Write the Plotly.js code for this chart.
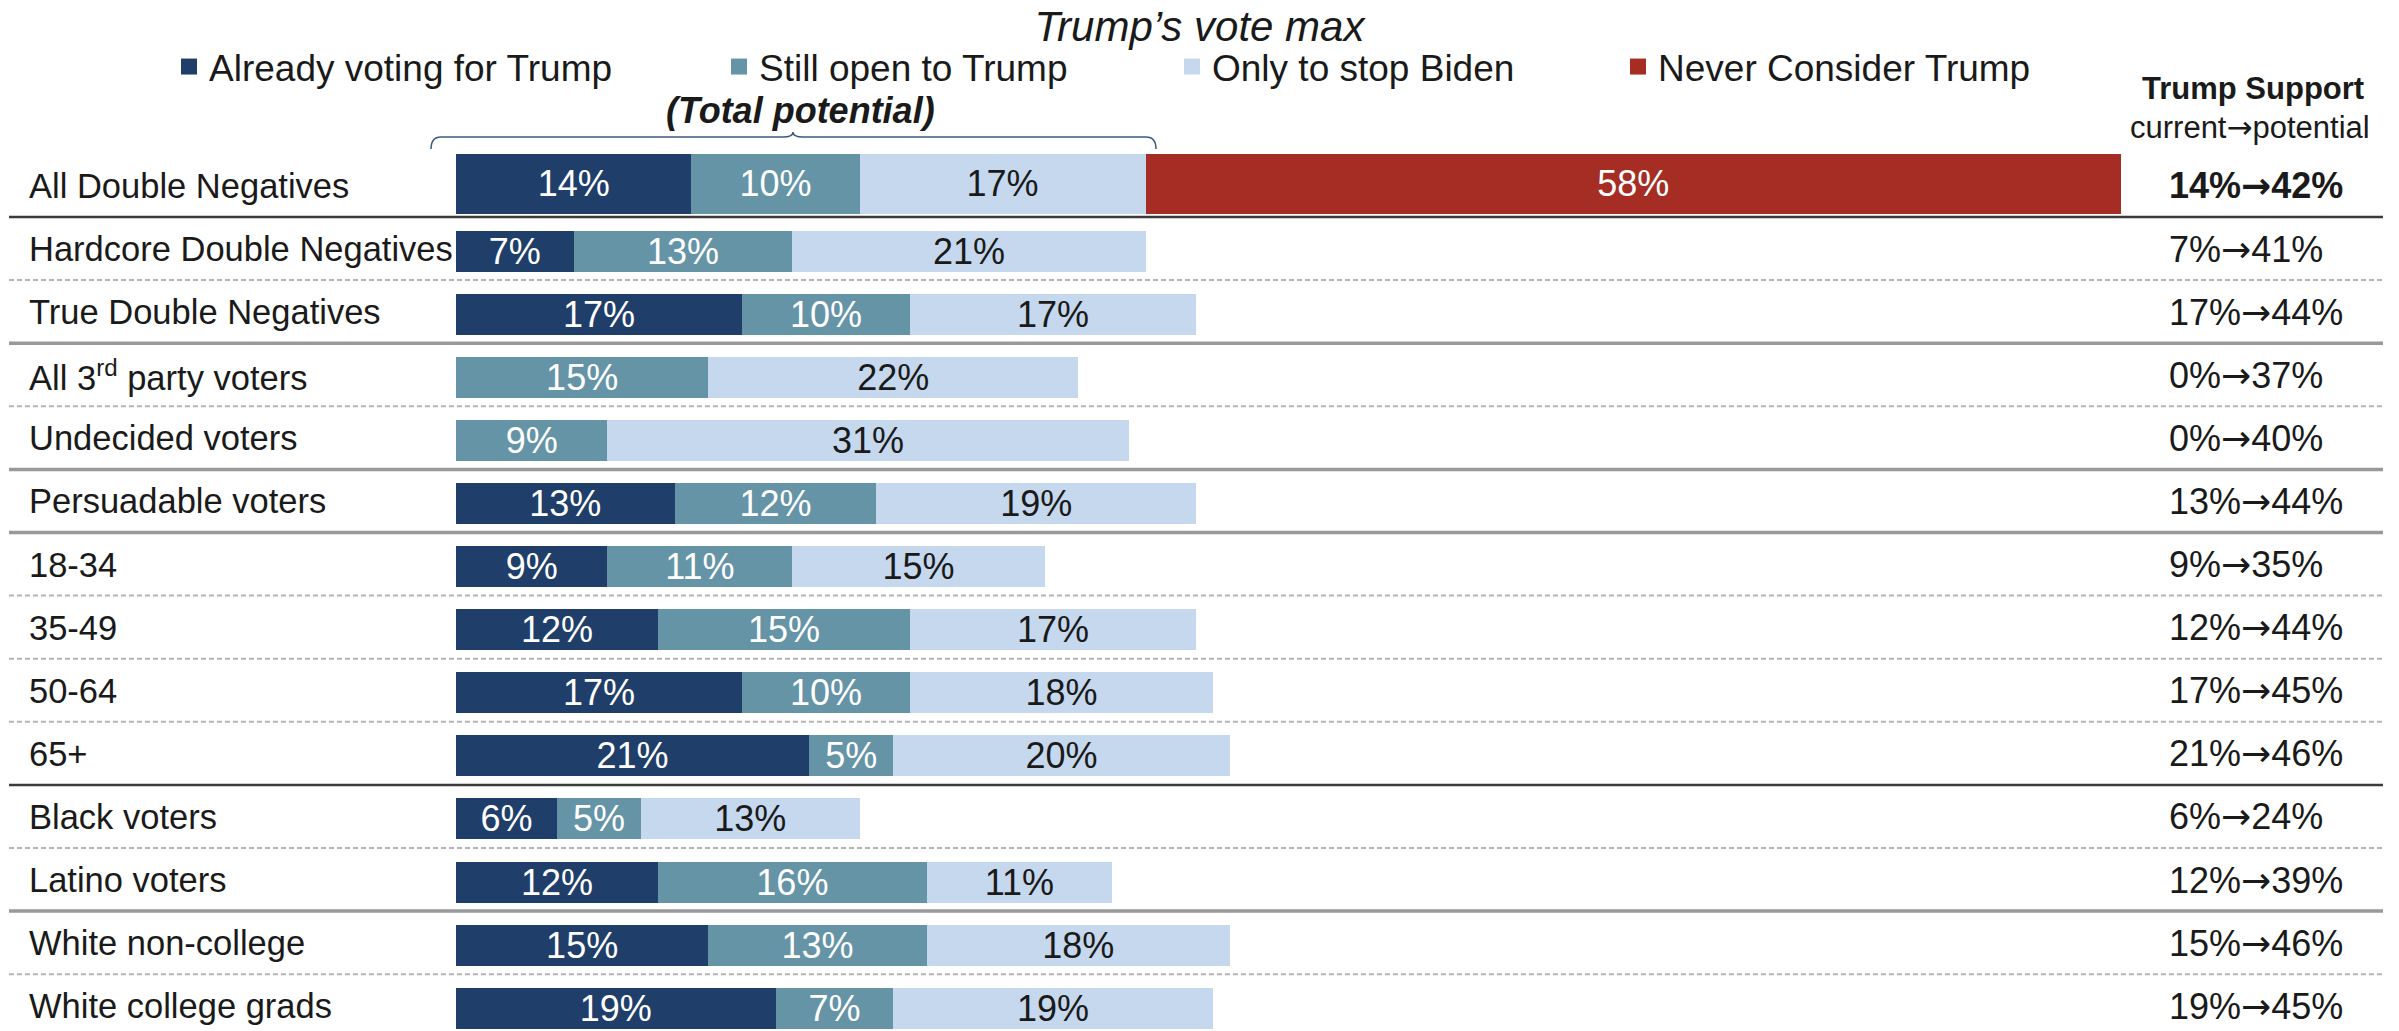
<!DOCTYPE html>
<html>
<head>
<meta charset="utf-8">
<script src="https://cdn.plot.ly/plotly-3.0.1.min.js"></script>
<style>html,body{margin:0;padding:0;background:#fff;}#chart{width:2399px;height:1031px;}</style>
</head>
<body>
<div id="chart"></div>
<script>
// ---- data ----
var categories = ['All Double Negatives','Hardcore Double Negatives','True Double Negatives','All 3<sup>rd</sup> party voters','Undecided voters','Persuadable voters','18-34','35-49','50-64','65+','Black voters','Latino voters','White non-college','White college grads'];
var alreadyVoting = [14, 7, 17, 0, 0, 13, 9, 12, 17, 21, 6, 12, 15, 19];
var stillOpen     = [10, 13, 10, 15, 9, 12, 11, 15, 10, 5, 5, 16, 13, 7];
var onlyStopBiden = [17, 21, 17, 22, 31, 19, 15, 17, 18, 20, 13, 11, 18, 19];
var neverConsider = [58, null, null, null, null, null, null, null, null, null, null, null, null, null];
var supportCurrent   = [14, 7, 17, 0, 0, 13, 9, 12, 17, 21, 6, 12, 15, 19];
var supportPotential = [42, 41, 44, 37, 40, 44, 35, 44, 45, 46, 24, 39, 46, 45];
var seriesNames = ['Already voting for Trump','Still open to Trump','Only to stop Biden','Never Consider Trump'];
// separator style after each row: 'dark', 'solid', 'dash'
var separators = ['dark','dash','solid','dash','solid','solid','dash','dash','dash','dark','dash','solid','dash'];

// ---- styling ----
var W = 2399, H = 1031;
var FONT = 'Liberation Sans, Arial, sans-serif';
var ARROW = '<span style="font-family:\'DejaVu Sans\'">\u2192</span>';
var colors = ['#1f3e69', '#6594a7', '#c5d8ee', '#a52d24'];
var textColors = ['#ffffff', '#ffffff', '#1a1a1a', '#ffffff'];
function px(x){ return x / W; }
function py(y){ return 1 - y / H; }

var widths = categories.map(function(c, i){ return i === 0 ? 0.951 : 0.65; });
var offsets = categories.map(function(c, i){ return i === 0 ? -0.539 : -0.325; });

var seriesValues = [alreadyVoting, stillOpen, onlyStopBiden, neverConsider];
var traces = seriesValues.map(function(vals, k){
  return {
    type: 'bar', orientation: 'h',
    name: seriesNames[k],
    x: vals, y: categories,
    width: widths, offset: offsets,
    marker: {color: colors[k], line: {width: 0}},
    text: vals.map(function(v){ return (v === null || v === 0) ? null : v + '%'; }),
    textposition: 'inside', insidetextanchor: 'middle',
    constraintext: 'none', cliponaxis: false,
    textfont: {family: FONT, size: 36, color: textColors[k]},
    showlegend: false, hoverinfo: 'skip'
  };
});

// legend-only traces (one legend each so they can be spaced like the original)
var legendIds = ['legend', 'legend2', 'legend3', 'legend4'];
seriesNames.forEach(function(n, k){
  traces.push({
    type: 'scatter', mode: 'markers', x: [null], y: [null],
    name: n, legend: legendIds[k],
    marker: {symbol: 'square', size: 16, color: colors[k]},
    showlegend: true, hoverinfo: 'skip'
  });
});

var legendTextStart = [214, 764, 1217, 1663];
var annotations = [];
categories.forEach(function(c, i){
  annotations.push({
    xref: 'paper', yref: 'y', x: px(27), y: c, xanchor: 'left', yanchor: 'middle', yshift: 2,
    text: c, showarrow: false,
    font: {family: FONT, size: 34.5, color: '#1a1a1a'}
  });
  var s = supportCurrent[i] + '%' + ARROW + supportPotential[i] + '%';
  annotations.push({
    xref: 'paper', yref: 'y', x: px(2167), y: c, xanchor: 'left', yanchor: 'middle', yshift: 2,
    text: i === 0 ? '<b>' + s + '</b>' : s, showarrow: false,
    font: {family: FONT, size: 36, color: '#1a1a1a'}
  });
});
annotations.push({xref:'paper', yref:'paper', x: px(2253), y: py(88), xanchor:'center', yanchor:'middle',
  text:'<b>Trump Support</b>', showarrow:false, font:{family:FONT, size:31, color:'#1a1a1a'}});
annotations.push({xref:'paper', yref:'paper', x: px(2250), y: py(127), xanchor:'center', yanchor:'middle',
  text:'current' + ARROW + 'potential', showarrow:false, font:{family:FONT, size:31, color:'#1a1a1a'}});
annotations.push({xref:'paper', yref:'paper', x: px(800), y: py(111), xanchor:'center', yanchor:'middle',
  text:'<b><i>(Total potential)</i></b>', showarrow:false, font:{family:FONT, size:36, color:'#1a1a1a'}});

var shapes = [];
var sepStyle = {
  dark:  {color:'#3a3a3a', width:2.5, dash:'solid'},
  solid: {color:'#999999', width:3.5, dash:'solid'},
  dash:  {color:'#b4b4b4', width:2,   dash:'5px,3px'}
};
separators.forEach(function(t, i){
  shapes.push({type:'line', xref:'paper', yref:'y', x0: px(9), x1: px(2383), y0: i + 0.46, y1: i + 0.46,
    line: sepStyle[t], layer:'below'});
});
// curly bracket over the "total potential" part of the first bar
var bx0 = px(431), bx1 = px(1156), bxm = px(793);
var byT = py(137), byE = py(149), byC = py(132), r = px(10);
shapes.push({type:'path', xref:'paper', yref:'paper',
  path: 'M' + bx0 + ',' + byE + ' Q' + bx0 + ',' + byT + ' ' + (bx0 + r) + ',' + byT +
        ' L' + (bxm - r) + ',' + byT + ' Q' + bxm + ',' + byT + ' ' + bxm + ',' + byC +
        ' Q' + bxm + ',' + byT + ' ' + (bxm + r) + ',' + byT +
        ' L' + (bx1 - r) + ',' + byT + ' Q' + bx1 + ',' + byT + ' ' + bx1 + ',' + byE,
  line: {color:'#3d5a80', width:1.5}});

var layout = {
  width: W, height: H,
  margin: {l:0, r:0, t:0, b:0, pad:0},
  paper_bgcolor: '#ffffff', plot_bgcolor: '#ffffff',
  barmode: 'stack', bargap: 0,
  font: {family: FONT, color: '#1a1a1a'},
  title: {text: '<i>Trump\u2019s vote max</i>', x: 0.5, xanchor: 'center', y: py(26), yanchor: 'middle',
          font: {family: FONT, size: 42, color: '#1a1a1a'}},
  xaxis: {domain: [px(456), px(2121)], range: [0, 99], showgrid: false, zeroline: false,
          showticklabels: false, showline: false, ticks: '', fixedrange: true},
  yaxis: {domain: [0, 1], type: 'category', range: [13.36, -2.979], showgrid: false, zeroline: false,
          showticklabels: false, showline: false, ticks: '', fixedrange: true},
  annotations: annotations,
  shapes: shapes,
  hovermode: false
};
legendIds.forEach(function(id, k){
  layout[id] = {orientation:'h', x: px(legendTextStart[k] - 45), xanchor:'left', y: py(67), yanchor:'middle',
    bgcolor:'rgba(0,0,0,0)', borderwidth:0, font:{family:FONT, size:37, color:'#1a1a1a'}};
});

Plotly.newPlot('chart', traces, layout, {displayModeBar:false, staticPlot:true});
</script>
</body>
</html>
